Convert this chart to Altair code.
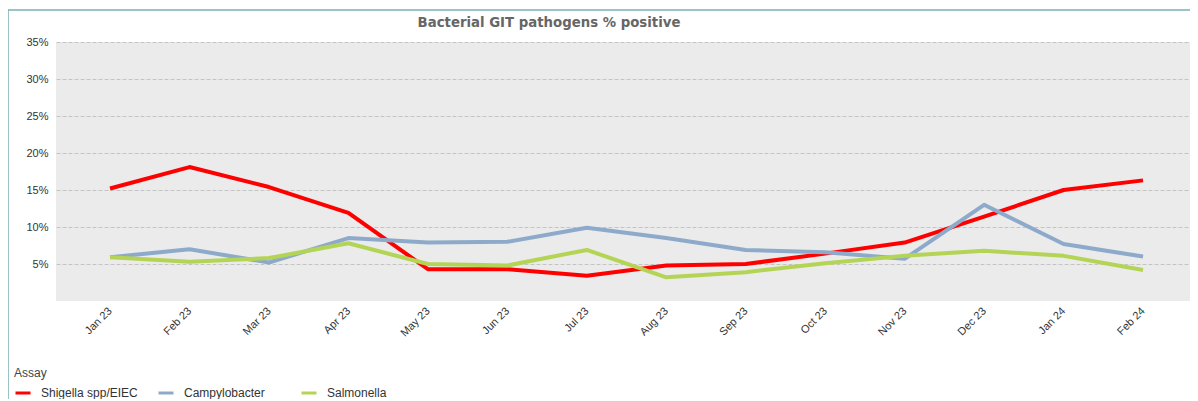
import altair as alt
import pandas as pd

months = ["Jan 23", "Feb 23", "Mar 23", "Apr 23", "May 23", "Jun 23", "Jul 23",
          "Aug 23", "Sep 23", "Oct 23", "Nov 23", "Dec 23", "Jan 24", "Feb 24"]
shigella = [15.2, 18.1, 15.4, 11.9, 4.3, 4.3, 3.4, 4.8, 5.0, 6.4, 7.9, 11.4, 15.0, 16.3]
campylobacter = [5.9, 7.0, 5.2, 8.5, 7.9, 8.0, 9.9, 8.5, 6.9, 6.6, 5.7, 13.0, 7.7, 6.0]
salmonella = [5.9, 5.3, 5.8, 7.8, 5.0, 4.8, 6.9, 3.2, 3.9, 5.1, 6.1, 6.8, 6.1, 4.2]

series_names = ["Shigella spp/EIEC", "Campylobacter", "Salmonella"]
series_colors = ["#ff0000", "#8eaacb", "#b4d455"]

rows = []
for name, vals in zip(series_names, [shigella, campylobacter, salmonella]):
    for i, (m, v) in enumerate(zip(months, vals)):
        rows.append({"Month": m, "Assay": name, "Value": v, "order": series_names.index(name)})
df = pd.DataFrame(rows)

W, H = 1134, 259

lines = alt.Chart(df).mark_line(strokeWidth=4, strokeJoin="round").encode(
    x=alt.X("Month:N", sort=months,
            scale=alt.Scale(type="point", padding=0.6355, align=0.535),
            axis=alt.Axis(title=None, labelAngle=315, labelAlign="right", labelBaseline="middle",
                          labelPadding=8, ticks=False, domain=False, grid=False,
                          labelFont="Liberation Sans", labelFontSize=11, labelColor="#333333")),
    y=alt.Y("Value:Q", scale=alt.Scale(domain=[0, 35], nice=False),
            axis=alt.Axis(title=None, values=[5, 10, 15, 20, 25, 30, 35],
                          labelExpr="datum.value + '%'", ticks=False, domain=False,
                          labelPadding=8, labelFont="Liberation Sans", labelFontSize=11,
                          labelColor="#333333", grid=True, gridColor="#c4c4c4",
                          gridDash=[4, 2], gridWidth=1)),
    color=alt.Color("Assay:N", sort=series_names,
                    scale=alt.Scale(domain=series_names, range=series_colors),
                    legend=alt.Legend(title="Assay", orient="none", legendX=-42, legendY=326,
                                      direction="horizontal", columns=3, gridAlign="all",
                                      symbolType="stroke", symbolStrokeWidth=3, symbolSize=225,
                                      labelOffset=9, columnPadding=14,
                                      labelFont="Liberation Sans", labelFontSize=12,
                                      labelColor="#333333", titleFont="Liberation Sans",
                                      titleFontSize=12, titleFontWeight="normal",
                                      titleColor="#444444", titlePadding=4)),
    detail="Assay:N",
    order=alt.Order("order:Q"),
)

frame_df = pd.DataFrame({"a": [0]})
frame_top = alt.Chart(frame_df).mark_rule(color="#7aaeb4", strokeWidth=1.5).encode(
    x=alt.value(-48), x2=alt.value(W + 20), y=alt.value(-32))
frame_left = alt.Chart(frame_df).mark_rule(color="#7aaeb4", strokeWidth=1.5).encode(
    x=alt.value(-48), y=alt.value(-32), y2=alt.value(H + 120))

chart = alt.layer(lines, frame_top, frame_left).properties(
    width=W, height=H,
    title=alt.TitleParams("Bacterial GIT pathogens % positive", anchor="middle", dx=-74,
                          frame="group", font="DejaVu Sans", fontSize=13.3, fontWeight="bold",
                          color="#666666", offset=14, dy=34),
    autosize=alt.AutoSizeParams(type="none"),
    padding={"left": 48, "top": 34, "right": 0, "bottom": 98},
    background="white",
).configure_view(fill="#ebebeb", stroke=None)

chart.save("out.html", embed_options={"renderer": "svg", "actions": False})
